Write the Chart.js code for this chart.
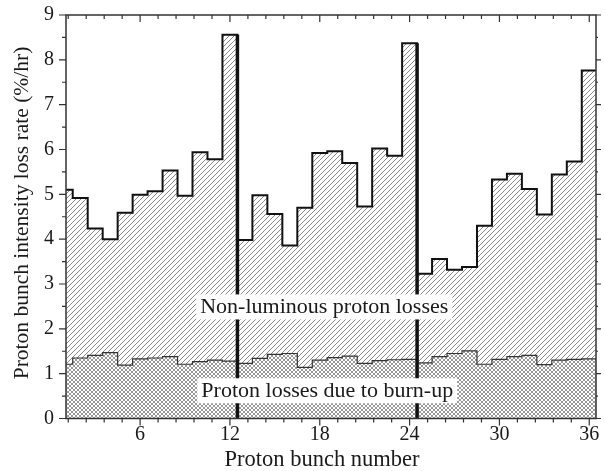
<!DOCTYPE html>
<html>
<head>
<meta charset="utf-8">
<script src="https://cdn.jsdelivr.net/npm/chart.js@4.4.0/dist/chart.umd.min.js"></script>
<style>
  html, body { margin: 0; padding: 0; background: #fff; }
</style>
</head>
<body>
<canvas id="lossChart" width="605" height="471"></canvas>
<script>
// Loss rate per proton bunch (%/hr), bunches 1..36
const bunches = [1, 2, 3, 4, 5, 6, 7, 8, 9, 10, 11, 12,
                 13, 14, 15, 16, 17, 18, 19, 20, 21, 22, 23, 24,
                 25, 26, 27, 28, 29, 30, 31, 32, 33, 34, 35, 36];
const totalLoss = [5.10, 4.92, 4.24, 4.00, 4.59, 4.99, 5.07, 5.53, 4.97, 5.94, 5.78, 8.56,
                   3.98, 4.98, 4.56, 3.86, 4.70, 5.92, 5.96, 5.70, 4.73, 6.02, 5.86, 8.37,
                   3.23, 3.56, 3.32, 3.38, 4.30, 5.33, 5.46, 5.12, 4.55, 5.44, 5.73, 7.76];
const burnupLoss = [1.21, 1.35, 1.41, 1.47, 1.19, 1.33, 1.35, 1.38, 1.21, 1.27, 1.30, 1.28,
                    1.23, 1.34, 1.43, 1.45, 1.14, 1.30, 1.36, 1.39, 1.23, 1.29, 1.31, 1.32,
                    1.24, 1.38, 1.45, 1.51, 1.21, 1.32, 1.38, 1.41, 1.20, 1.30, 1.32, 1.33];
const trainEnds = [12, 24, 36];
const xTickLabels = [6, 12, 18, 24, 30, 36];
const yTickLabels = [0, 1, 2, 3, 4, 5, 6, 7, 8, 9];
const totalLabel = 'Non-luminous proton losses';
const burnupLabel = 'Proton losses due to burn-up';

const FONT = '"Liberation Serif", "Times New Roman", serif';
const INK = '#1a1a1a';

function makePattern(size, color, cross) {
  const c = document.createElement('canvas');
  c.width = c.height = size;
  const g = c.getContext('2d');
  g.fillStyle = '#fff';
  g.fillRect(0, 0, size, size);
  g.strokeStyle = color;
  g.lineWidth = 1;
  g.beginPath();
  g.moveTo(-1, size + 1); g.lineTo(size + 1, -1);
  g.moveTo(-1, 1); g.lineTo(1, -1);
  g.moveTo(size - 1, size + 1); g.lineTo(size + 1, size - 1);
  if (cross) {
    g.moveTo(-1, -1); g.lineTo(size + 1, size + 1);
    g.moveTo(size - 1, -1); g.lineTo(size + 1, 1);
    g.moveTo(-1, size - 1); g.lineTo(1, size + 1);
  }
  g.stroke();
  return g.createPattern(c, 'repeat');
}

// step outline for each bunch train, dropping to zero at train edges
const totalPts = [];
let start = 1;
trainEnds.forEach(end => {
  totalPts.push({ x: start - 0.5, y: 0 });
  for (let b = start; b <= end; b++) {
    const v = totalLoss[bunches.indexOf(b)];
    totalPts.push({ x: b - 0.5, y: v }, { x: b + 0.5, y: v });
  }
  totalPts.push({ x: end + 0.5, y: 0 });
  start = end + 1;
});

const burnPts = [{ x: 0.5, y: 0 }];
bunches.forEach((b, i) => {
  burnPts.push({ x: b - 0.5, y: burnupLoss[i] }, { x: b + 0.5, y: burnupLoss[i] });
});
burnPts.push({ x: 36.5, y: 0 });

const sepPts = [];
trainEnds.forEach(end => {
  sepPts.push({ x: end + 0.5, y: 0 }, { x: end + 0.5, y: totalLoss[end - 1] }, { x: end + 0.5, y: null });
});

const frame = {
  id: 'frame',
  afterDraw(chart) {
    const { ctx, chartArea: a, scales: { x, y } } = chart;
    ctx.save();
    ctx.strokeStyle = '#333';
    ctx.lineWidth = 1.5;
    ctx.strokeRect(a.left, a.top, a.right - a.left, a.bottom - a.top);
    ctx.lineWidth = 1.2;
    ctx.beginPath();
    for (let v = 1.2; v <= 36.5; v += 1.2) {
      const px = x.getPixelForValue(v);
      const major = Math.abs(v / 6 - Math.round(v / 6)) < 0.01;
      const len = major ? 7 : 4;
      ctx.moveTo(px, a.bottom); ctx.lineTo(px, a.bottom + len);
      ctx.moveTo(px, a.top); ctx.lineTo(px, a.top + len);
    }
    for (let v = 0; v <= 9; v += 0.5) {
      const py = y.getPixelForValue(v);
      const len = Number.isInteger(v) ? 7 : 4;
      ctx.moveTo(a.left, py); ctx.lineTo(a.left - len, py);
      ctx.moveTo(a.right, py); ctx.lineTo(a.right + len - 2, py);
    }
    ctx.stroke();

    // in-plot labels on white boxes
    ctx.font = '22px ' + FONT;
    ctx.textAlign = 'center';
    ctx.textBaseline = 'middle';
    [[totalLabel, 18.3, 2.5], [burnupLabel, 18.5, 0.63]].forEach(([t, vx, vy]) => {
      const px = x.getPixelForValue(vx), py = y.getPixelForValue(vy);
      const w = ctx.measureText(t).width;
      ctx.fillStyle = '#fff';
      ctx.fillRect(px - w / 2 - 4, py - 12, w + 8, 25);
      ctx.fillStyle = INK;
      ctx.fillText(t, px, py + 1);
    });

    // axis titles
    ctx.font = '22.5px ' + FONT;
    ctx.fillText('Proton bunch number', 322, 460);
    ctx.font = '21.5px ' + FONT;
    ctx.translate(22, 213);
    ctx.rotate(-Math.PI / 2);
    ctx.fillText('Proton bunch intensity loss rate (%/hr)', 0, 0);
    ctx.restore();
  }
};

const ctx = document.getElementById('lossChart').getContext('2d');
const lossChart = new Chart(ctx, {
  type: 'scatter',
  data: {
    datasets: [
      {
        label: burnupLabel,
        data: burnPts,
        order: 0,
        showLine: true,
        fill: 'origin',
        backgroundColor: makePattern(4, '#9a9a9a', true),
        borderColor: '#333',
        borderWidth: 1.2,
        pointRadius: 0,
        tension: 0,
        clip: 0
      },
      {
        label: totalLabel,
        data: totalPts,
        order: 1,
        showLine: true,
        fill: 'origin',
        backgroundColor: makePattern(5, '#8a8a8a', false),
        borderColor: '#111',
        borderWidth: 2,
        pointRadius: 0,
        tension: 0,
        clip: 0
      },
      {
        label: 'train ends',
        data: sepPts,
        order: -1,
        showLine: true,
        fill: false,
        borderColor: '#111',
        borderWidth: 3.5,
        pointRadius: 0,
        spanGaps: false,
        clip: 0
      }
    ]
  },
  options: {
    responsive: false,
    animation: false,
    devicePixelRatio: 1,
    layout: { padding: { top: 15, right: 9, left: 0, bottom: 0 } },
    plugins: { legend: { display: false }, tooltip: { enabled: false } },
    scales: {
      x: {
        type: 'linear',
        min: 1.05,
        max: 36.45,
        grid: { display: false, drawTicks: false },
        border: { display: false },
        afterBuildTicks: s => { s.ticks = xTickLabels.map(v => ({ value: v })); },
        afterFit: s => { s.height = 52.5; s.paddingLeft = 0; s.paddingRight = 0; },
        ticks: { font: { family: FONT, size: 20 }, color: INK, padding: 4, maxRotation: 0 }
      },
      y: {
        min: 0,
        max: 9,
        grid: { display: false, drawTicks: false },
        border: { display: false },
        afterBuildTicks: s => { s.ticks = yTickLabels.map(v => ({ value: v })); },
        afterFit: s => { s.width = 66; s.paddingTop = 0; s.paddingBottom = 0; },
        ticks: { font: { family: FONT, size: 20 }, color: INK, padding: 12 }
      }
    }
  },
  plugins: [frame]
});
</script>
</body>
</html>
